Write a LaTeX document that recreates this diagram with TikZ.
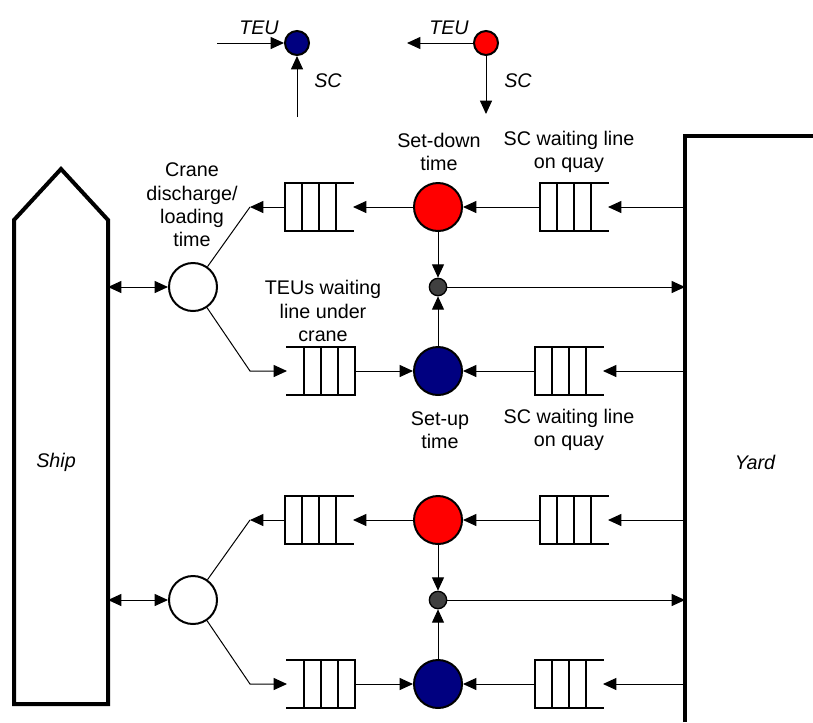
\documentclass[tikz,border=0pt]{standalone}
\usepackage{fontspec}
\setmainfont{Liberation Sans}
\usetikzlibrary{arrows.meta,calc}
\definecolor{redc}{HTML}{FF0000}
\definecolor{bluec}{HTML}{000080}
\definecolor{dotc}{HTML}{404040}
% queue closed on the left (output on the left)
\newcommand{\qcl}[1]{%
  \draw[qline] (#1.north east) -- (#1.north west) -- (#1.south west) -- (#1.south east);
  \foreach \f in {0.25,0.5,0.75}
    \draw[qline] ($(#1.north west)!\f!(#1.north east)$) -- ($(#1.south west)!\f!(#1.south east)$);}
% queue closed on the right (output on the right)
\newcommand{\qcr}[1]{%
  \draw[qline] (#1.north west) -- (#1.north east) -- (#1.south east) -- (#1.south west);
  \foreach \f in {0.25,0.5,0.75}
    \draw[qline] ($(#1.north west)!\f!(#1.north east)$) -- ($(#1.south west)!\f!(#1.south east)$);}
\begin{document}
\begin{tikzpicture}[x=0.75pt,y=-0.75pt,
  font=\fontsize{14.8}{17.5}\selectfont,
  arr/.style={line width=0.75pt,-{Triangle[length=10pt,width=9pt]}},
  dbl/.style={line width=0.75pt,{Triangle[length=10pt,width=9pt]}-{Triangle[length=10pt,width=9pt]}},
  ln/.style={line width=0.75pt},
  qline/.style={line width=1.5pt,line cap=rect},
  wall/.style={line width=3pt,line join=miter},
  proc/.style={circle,draw,line width=1.5pt,minimum size=36pt,inner sep=0pt},
  legdot/.style={circle,draw,line width=1.5pt,minimum size=18pt,inner sep=0pt},
  queue/.style={rectangle,inner sep=0pt,outer sep=0pt,minimum width=51pt,minimum height=36pt},
  junction/.style={circle,draw,fill=dotc,line width=1pt,minimum size=13pt,inner sep=0pt},
  lbl/.style={align=center,inner sep=0pt},
  itl/.style={lbl,font=\fontsize{14.8}{17.5}\selectfont\itshape},
]
\useasboundingbox (0,0) rectangle (813,722);

% legend
\node[legdot,fill=bluec] (lb) at (297,43) {};
\coordinate (lbT) at (217,43);
\coordinate (lbS) at (297,117);
\draw[arr] (lbT) -- (lb);
\draw[arr] (lbS) -- (lb);
\node[itl] (lbTl) at (259,28) {TEU};
\node[itl] (lbSl) at (328,81) {SC};
\node[legdot,fill=redc] (lr) at (486,43) {};
\coordinate (lrT) at (407,43);
\coordinate (lrS) at (486,114);
\draw[arr] (lr) -- (lrT);
\draw[arr] (lr) -- (lrS);
\node[itl] (lrTl) at (449,28) {TEU};
\node[itl] (lrSl) at (518,81) {SC};

% ship and yard
\draw[wall] (14,704) -- (14,220) -- (61,169) -- (108,220) -- (108,704) -- cycle;
\node[itl] (shipl) at (56,462) {Ship};
\draw[wall] (685,722) -- (685,136) -- (813,136);
\node[itl] (yardl) at (755,462) {Yard};

% labels
\node[lbl] (l1) at (192,205) {Crane\\discharge/\\loading\\time};
\node[lbl] (l2) at (439,152) {Set-down\\time};
\node[lbl] (l3) at (569,152) {SC waiting line\\on quay};
\node[lbl] (l4) at (323,311) {TEUs waiting\\line under\\crane};
\node[lbl] (l5) at (440,430) {Set-up\\time};
\node[lbl] (l6) at (569,430) {SC waiting line\\on quay};

\foreach \i/\dy in {1/0,2/313}{
  \node[proc,fill=white] (cr\i) at (193,{287+\dy}) {};
  \coordinate (sh\i) at (108,{287+\dy});
  \node[queue] (qa\i) at (319,{207+\dy}) {};
  \node[queue] (qb\i) at (321,{371+\dy}) {};
  \node[queue] (qc\i) at (574,{207+\dy}) {};
  \node[queue] (qd\i) at (569,{371+\dy}) {};
  \node[proc,fill=redc] (rd\i) at (438,{207+\dy}) {};
  \node[junction] (dt\i) at (438,{287+\dy}) {};
  \node[proc,fill=bluec] (bl\i) at (438,{371+\dy}) {};
  \coordinate (ya\i) at (685,{207+\dy});
  \coordinate (yb\i) at (685,{287+\dy});
  \coordinate (yc\i) at (685,{371+\dy});
  \coordinate (ka\i) at (250,{207+\dy});
  \coordinate (kb\i) at (250,{371+\dy});
  \qcl{qa\i}
  \qcr{qb\i}
  \qcl{qc\i}
  \qcl{qd\i}
  \draw[dbl] (sh\i) -- (cr\i);
  \draw[arr] (ya\i) -- (qc\i.east);
  \draw[arr] (qc\i.west) -- (rd\i);
  \draw[arr] (rd\i) -- (qa\i.east);
  \draw[arr] (qa\i.west) -- (ka\i);
  \draw[ln] (cr\i) -- (ka\i);
  \draw[arr] (cr\i) -- (kb\i) -- (qb\i.west);
  \draw[arr] (qb\i.east) -- (bl\i);
  \draw[arr] (yc\i) -- (qd\i.east);
  \draw[arr] (qd\i.west) -- (bl\i);
  \draw[arr] (rd\i) -- (dt\i);
  \draw[arr] (bl\i) -- (dt\i);
  \draw[arr] (dt\i) -- (yb\i);
}
\end{tikzpicture}
\end{document}
